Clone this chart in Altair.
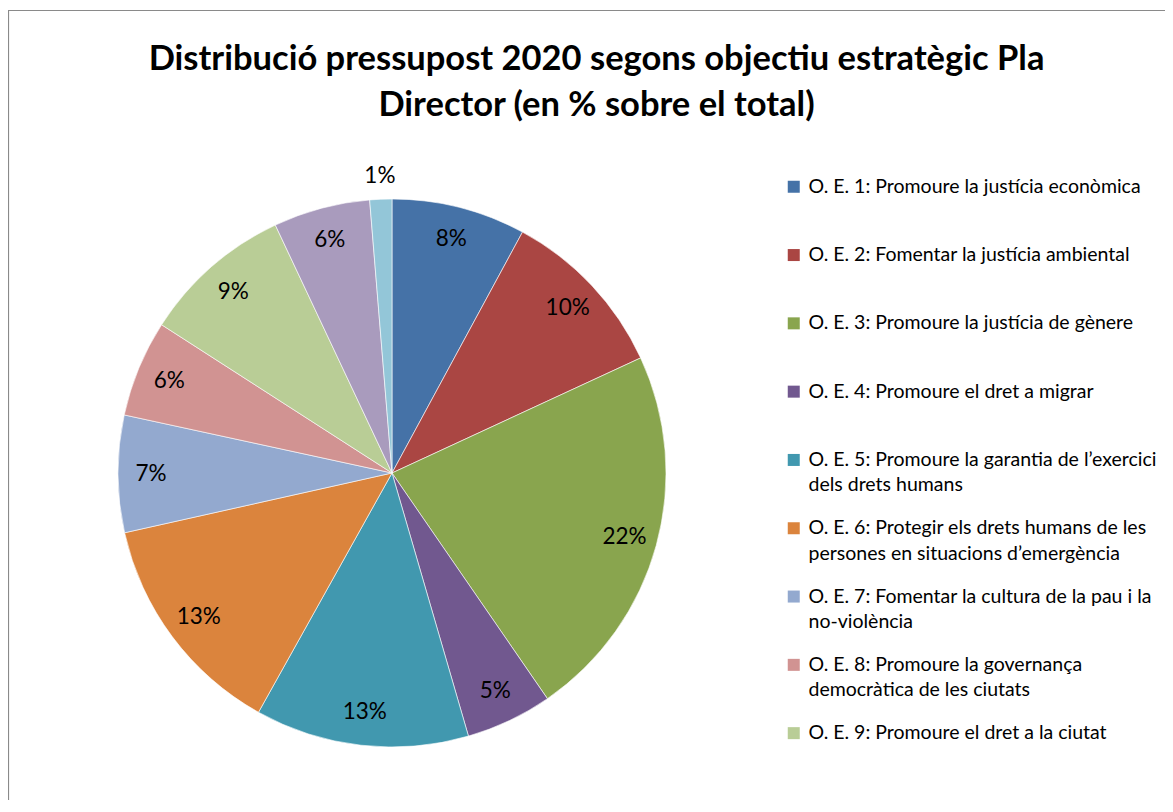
import altair as alt
import pandas as pd

# ---- data ----
categories = [
    "O. E. 1: Promoure la justícia econòmica",
    "O. E. 2: Fomentar la justícia ambiental",
    "O. E. 3: Promoure la justícia de gènere",
    "O. E. 4: Promoure el dret a migrar",
    "O. E. 5: Promoure la garantia de l’exercici|dels drets humans",
    "O. E. 6: Protegir els drets humans de les|persones en situacions d’emergència",
    "O. E. 7: Fomentar la cultura de la pau i la|no-violència",
    "O. E. 8: Promoure la governança|democràtica de les ciutats",
    "O. E. 9: Promoure el dret a la ciutat",
    "O. E. 10",
    "O. E. 11",
]
values = [7.9, 10.2, 22.3, 5.1, 12.6, 13.4, 6.9, 5.7, 8.9, 5.7, 1.3]
colors = ["#4572A7", "#AA4643", "#89A54E", "#71588F", "#4198AF", "#DB843D",
          "#93A9CF", "#D19392", "#B9CD96", "#A99BBD", "#93C6D8"]
title_lines = ["Distribució pressupost 2020 segons objectiu estratègic Pla",
               "Director (en % sobre el total)"]

W, H = 1157, 790
CX, CY, R = 384, 463, 274
FONT = "Lato"

df = pd.DataFrame({"cat": categories, "v": values, "idx": list(range(len(values)))})

base = alt.Chart(df).encode(
    theta=alt.Theta("v:Q", stack=True),
    order=alt.Order("idx:Q"),
)

pie = base.mark_arc(outerRadius=R, x=CX, y=CY, stroke="white", strokeWidth=0.6).encode(
    color=alt.Color(
        "cat:N",
        scale=alt.Scale(domain=categories, range=colors),
        legend=alt.Legend(
            title=None,
            values=categories[:9],
            orient="none",
            legendX=776,
            legendY=167,
            symbolType="square",
            symbolSize=144,
            symbolStrokeWidth=0,
            labelFont=FONT,
            labelFontSize=19.5,
            labelColor="black",
            labelLimit=500,
            labelOffset=5,
            labelExpr="split(datum.label, '|')",
            gridAlign="all",
            rowPadding=22.3,
            padding=0,
        ),
    )
)

lab_in = base.transform_calculate(
    t="datum.v >= 2 ? format(datum.v / 100, '.0%') : ''"
).mark_text(radius=241, x=CX, y=CY, font=FONT, fontSize=22.5, color="black").encode(
    text="t:N"
)
lab_out = base.transform_calculate(
    t="datum.v < 2 ? format(datum.v / 100, '.0%') : ''"
).mark_text(radius=297, x=CX, y=CY, font=FONT, fontSize=22.5, color="black").encode(
    text="t:N"
)

frame_src = pd.DataFrame({"k": [0]})
left_edge = alt.Chart(frame_src).mark_rule(color="#8a8a8a", strokeWidth=1.2).encode(
    x=alt.value(0.5), y=alt.value(0), y2=alt.value(H)
)
top_edge = alt.Chart(frame_src).mark_rule(color="#8a8a8a", strokeWidth=1.2).encode(
    y=alt.value(0.5), x=alt.value(0), x2=alt.value(W)
)

chart = alt.layer(left_edge, top_edge, pie, lab_in, lab_out).properties(
    width=W,
    height=H,
    autosize=alt.AutoSizeParams(type="none"),
    padding={"left": 0, "top": 2, "right": 0, "bottom": 0},
    title=alt.TitleParams(
        text=title_lines,
        font=FONT,
        fontSize=34.5,
        fontWeight="bold",
        color="black",
        anchor="middle",
        lineHeight=45.5,
        offset=-114,
        dx=10,
    ),
).configure_view(stroke=None).configure(
    background="white",
    style={"guide-label": {"lineHeight": 25.5}},
)

chart.save("out.html", embed_options={"renderer": "svg", "actions": False})
